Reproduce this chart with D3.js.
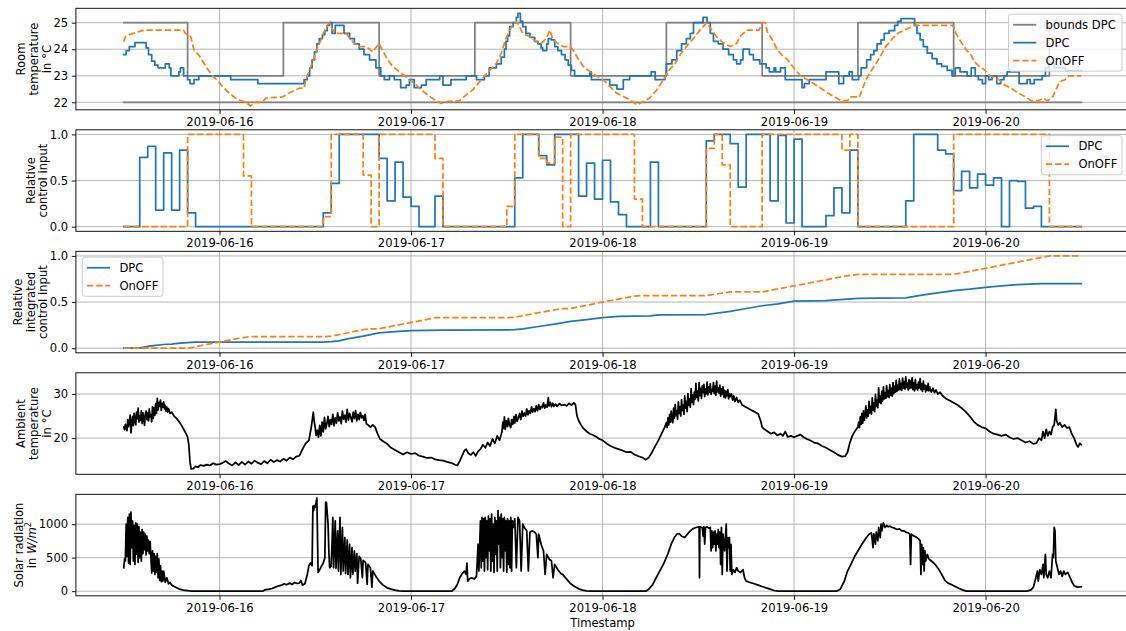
<!DOCTYPE html>
<html><head><meta charset="utf-8">
<script src="https://cdn.jsdelivr.net/npm/d3@7"></script>
<style>
html,body{margin:0;padding:0;background:#fff;}
svg{display:block;font-family:"DejaVu Sans",sans-serif;}
</style></head><body>
<svg id="chart" width="1126" height="631"></svg>
<script>
// ---------------- DATA (hours since 2019-06-15 00:00) ----------------
const dayTicks = ["2019-06-16","2019-06-17","2019-06-18","2019-06-19","2019-06-20"];
const roomTicks = [22,23,24,25];
const controlTicks = [0,0.5,1.0];
const ambientTicks = [20,30];
const solarTicks = [0,500,1000];

const boundsUpper = [[12,25],[20,23],[32,25],[44,23],[56,25],[68,23],[80,25],[92,23],[104,25],[116,23],[128,25],[132,25]];
const boundsLower = [[12,22],[132,22]];

const dpcRoomTemp = [[12.0,23.8],[12.3,23.95],[12.7,24.1],[13.4,24.25],[14.8,24.05],[15.1,23.8],[15.5,23.55],[15.9,23.4],[16.3,23.3],[17.2,23.45],[17.7,23.3],[17.9,23.0],[18.9,23.15],[19.1,23.3],[19.5,23.0],[20.0,22.85],[20.3,22.7],[20.8,22.85],[21.4,23.0],[25.4,22.85],[28.8,22.7],[34.6,22.85],[35.0,23.0],[35.3,23.3],[35.6,23.6],[35.9,23.9],[36.2,24.2],[36.5,24.4],[36.9,24.55],[37.2,24.7],[37.5,24.9],[37.8,25.0],[38.1,24.6],[38.5,24.9],[39.6,24.6],[40.3,24.4],[40.9,24.2],[41.5,24.0],[42.1,23.8],[42.8,23.6],[43.6,23.3],[44.2,23.0],[44.65,22.85],[45.3,23.0],[45.9,22.85],[46.7,22.55],[47.4,22.65],[47.8,22.85],[48.4,22.55],[49.3,22.65],[49.9,22.85],[51.6,23.0],[52.0,22.65],[53.0,22.85],[54.9,23.0],[56.2,22.85],[57.2,23.0],[57.8,23.3],[58.7,23.45],[59.3,23.7],[59.7,24.0],[59.9,24.3],[60.1,24.5],[60.35,24.85],[60.8,25.0],[61.2,25.2],[61.4,25.35],[61.7,25.05],[62.0,24.85],[62.4,24.6],[62.9,24.45],[63.5,24.3],[63.9,24.2],[64.3,24.05],[64.5,23.95],[65.0,24.2],[65.2,24.4],[65.6,24.35],[66.0,24.1],[66.4,23.95],[66.85,23.8],[67.3,23.6],[67.7,23.4],[68.1,23.2],[68.5,23.0],[70.4,23.15],[70.6,22.85],[72.9,22.65],[73.8,22.5],[74.6,22.85],[75.4,23.0],[78.1,23.15],[78.6,22.85],[79.8,23.0],[80.0,23.45],[80.7,23.6],[81.3,23.95],[81.9,24.2],[82.5,24.4],[83.0,24.6],[83.4,25.0],[84.6,25.2],[85.1,25.0],[85.5,24.6],[85.9,24.3],[86.5,24.2],[87.1,24.0],[87.8,23.8],[88.4,23.6],[88.8,23.45],[89.3,23.6],[89.6,24.0],[90.4,23.8],[90.9,23.6],[91.7,23.45],[92.5,23.3],[92.9,23.15],[93.5,23.3],[93.7,23.15],[94.3,23.3],[94.9,22.85],[97.0,22.55],[97.3,22.7],[97.9,22.85],[100.0,23.15],[101.6,22.7],[102.2,23.0],[102.9,23.15],[103.3,22.85],[104.1,23.0],[104.4,23.3],[105.1,23.6],[105.6,23.8],[106.0,23.95],[106.4,24.2],[106.9,24.35],[107.3,24.6],[107.9,24.7],[108.6,24.9],[109.0,25.05],[109.4,25.15],[111.1,24.9],[111.4,24.6],[111.8,24.35],[112.2,24.1],[112.7,23.85],[113.3,23.65],[113.9,23.45],[114.5,23.35],[115.2,23.2],[115.8,23.0],[116.2,23.3],[116.8,23.15],[117.7,23.0],[118.2,23.3],[118.7,23.0],[119.1,22.85],[119.6,22.7],[120.0,23.0],[120.4,22.85],[120.8,23.0],[121.4,22.7],[121.9,22.85],[122.3,23.0],[122.7,23.15],[124.2,22.7],[125.2,22.85],[125.6,22.7],[126.1,22.85],[127.1,23.0],[127.5,23.3],[127.9,23.5],[128.6,23.3],[130.0,23.2],[132.0,23.2]];

const onoffRoomTemp = [[12.0,24.28],[12.2,24.47],[12.8,24.56],[14.5,24.72],[19.5,24.72],[19.7,24.6],[20.4,24.47],[20.8,23.97],[21.4,23.78],[22.3,23.35],[23.1,23.0],[23.7,22.84],[24.35,22.6],[25.2,22.35],[26.0,22.16],[26.65,22.06],[27.3,22.0],[27.9,21.86],[28.5,22.0],[29.4,22.0],[29.8,22.16],[31.9,22.2],[32.7,22.35],[34.0,22.53],[34.6,22.53],[34.8,22.84],[35.45,23.35],[35.9,23.72],[36.3,24.1],[36.7,24.35],[37.1,24.66],[37.75,25.0],[38.2,24.72],[38.6,24.6],[39.85,24.6],[40.7,24.28],[41.5,24.1],[42.4,24.1],[43.2,23.9],[44.0,24.22],[44.4,23.97],[45.07,23.6],[45.7,23.35],[46.5,23.16],[47.2,23.0],[47.8,22.84],[48.4,22.72],[49.26,22.47],[50.1,22.28],[50.9,22.1],[51.8,21.96],[52.6,22.03],[54.1,22.06],[54.9,22.28],[55.75,22.47],[56.6,22.78],[57.2,22.99],[57.84,23.2],[58.7,23.47],[59.3,23.85],[59.9,24.41],[60.6,24.85],[61.2,25.04],[61.6,24.85],[62.0,24.6],[62.9,24.47],[63.7,24.28],[64.3,24.22],[64.96,24.41],[65.4,24.72],[65.8,24.35],[66.4,24.22],[67.05,24.1],[67.9,24.1],[68.3,23.97],[68.9,23.66],[69.6,23.35],[70.4,23.16],[71.2,23.0],[72.1,22.84],[72.9,22.6],[73.75,22.35],[74.6,22.22],[75.4,22.1],[76.3,21.9],[77.1,22.03],[77.9,22.16],[78.8,22.47],[79.6,22.84],[80.2,23.16],[81.1,23.47],[81.7,23.78],[82.5,24.1],[83.4,24.41],[84.2,24.72],[85.06,25.0],[85.7,24.72],[86.3,24.47],[87.2,24.22],[88.0,24.1],[88.8,24.22],[89.3,24.5],[90.1,24.72],[91.6,24.72],[92.0,25.0],[92.4,25.0],[92.65,24.66],[93.3,24.35],[93.9,23.97],[94.5,23.78],[95.2,23.6],[96.0,23.28],[96.8,23.0],[97.7,22.84],[98.5,22.7],[99.35,22.53],[100.2,22.35],[101.0,22.22],[101.9,22.06],[102.7,22.06],[103.1,22.2],[104.2,22.2],[104.6,22.53],[105.0,22.84],[105.6,23.16],[106.3,23.47],[106.9,23.78],[107.5,24.1],[108.35,24.41],[109.0,24.6],[109.8,24.72],[111.1,24.9],[115.9,24.9],[116.3,24.6],[116.9,24.28],[117.6,23.97],[118.2,23.78],[118.6,23.53],[119.2,23.35],[119.9,23.22],[120.5,23.0],[121.75,22.84],[122.4,22.65],[123.2,22.53],[124.1,22.35],[124.9,22.22],[125.75,22.06],[126.6,22.06],[127.2,22.15],[127.8,22.06],[128.45,22.22],[128.9,22.53],[129.3,22.78],[129.9,22.84],[130.5,23.0],[132.0,23.0]];

// hourly control inputs, first value is hour 12 of 2019-06-15
const controlStartHour = 12;
const dpcControl = [
0,0,0.75,0.87,0.18,0.8,0.18,0.83,0.15,0,
0,0,0,0,0,0,0,0,0,0,
0,0,0,0,0,0.15,0.47,1,1,1,
1,1,0.74,0.28,0.7,0.32,0.22,0,0,0.33,
0,0,0,0,0,0,0,0,0,0.53,
1,1,0.77,0.67,1,1,1,0.33,0.69,0.3,
0.72,0.27,0.13,0,0,0,0.7,0,0,0,
0,0,0,0.93,1,1,0.9,0.43,1,1,
1,0.28,0.99,0.04,0.95,0,0,0,0.12,0.42,
0.15,0.83,0,0,0,0,0,0,0.28,1,
1,1,0.83,0.79,0.39,0.6,0.42,0.57,0.45,0.53,
0,0.5,0.49,0.2,0.22,0,0,0,0,0];
const onoffControl = [
0,0,0,0,0,0,0,0,1,1,
1,1,1,1,1,0.55,0,0,0,0,
0,0,0,0,0,0.11,1,1,1,1,
0.56,0,1,1,1,1,1,1,1,0.74,
0,0,0,0,0,0,0,0,0.22,1,
1,1,0.74,0.69,0.97,0,1,1,1,1,
1,1,1,1,0.3,0,0,0,0,0,
0,0,0,0.85,1,0.67,0,0,0,0,
1,1,1,1,1,1,1,1,1,1,
0.83,1,0,0,0,0,0,0,0,0,
0,0,0,0,1,1,1,1,1,1,
1,1,1,1,1,1,0,0,0,0];

const dpcIntegrated = [[12,0],[14,0],[15,0.02],[16,0.03],[17,0.04],[18,0.045],[19,0.055],[20,0.06],[21,0.065],[37,0.065],[38,0.07],[39,0.08],[40,0.1],[42,0.13],[44,0.165],[46,0.18],[48,0.19],[52,0.195],[61,0.2],[62,0.21],[64,0.235],[66,0.26],[68,0.29],[70,0.31],[72,0.33],[74,0.345],[78,0.35],[79,0.36],[85,0.365],[88,0.4],[90,0.43],[92,0.46],[94,0.48],[96,0.51],[100,0.515],[104,0.54],[110,0.545],[112,0.575],[114,0.6],[116,0.625],[118,0.64],[120,0.66],[122,0.675],[124,0.69],[127,0.7],[132,0.7]];
const onoffIntegrated = [[12,0],[20,0],[21,0.015],[22,0.035],[23,0.05],[24,0.065],[25,0.085],[26,0.1],[27,0.115],[28,0.125],[37,0.125],[38,0.13],[42,0.2],[43,0.21],[44,0.21],[51,0.33],[52,0.33],[60,0.33],[61,0.335],[64,0.385],[67,0.43],[68,0.43],[72,0.5],[76,0.565],[77,0.57],[85,0.57],[88,0.61],[92,0.61],[96,0.675],[102,0.775],[104,0.8],[116,0.8],[120,0.865],[128,1.0],[132,1.0]];

const ambientTemp = [
[12.0,22.5],[12.1,21.9],[12.2,23.1],[12.3,22.2],[12.4,21.7],[12.5,24.2],[12.6,22.6],[12.7,23.8],[12.8,25.2],[12.9,21.2],[13.0,23.4],[13.1,24.9],[13.2,22.8],[13.3,25.6],[13.4,24.1],[13.5,23.0],[13.6,25.9],[13.7,24.4],[13.8,26.8],[13.9,23.6],[14.0,25.1],[14.1,24.0],[14.2,26.2],[14.3,23.3],[14.4,25.7],[14.5,24.6],[14.6,22.9],[14.7,25.4],[14.8,26.1],[14.9,24.2],[15.0,25.8],[15.1,23.9],[15.2,26.6],[15.3,24.8],[15.4,25.3],[15.5,23.7],[15.6,27.1],[15.7,24.5],[15.8,26.9],[15.9,25.2],[16.0,27.8],[16.1,25.6],[16.2,29.0],[16.3,26.4],[16.4,28.1],[16.5,27.2],[16.6,28.6],[16.7,26.3],[16.8,27.9],[16.9,27.0],[17.0,28.2],[17.1,26.6],[17.2,27.4],[17.3,26.1],[17.4,27.0],[17.5,25.9],[17.6,26.7],[17.8,25.6],[18.0,25.9],[18.3,25.0],[18.6,24.5],[18.9,23.8],[19.2,23.0],[19.5,22.0],[19.8,21.0],[20.0,20.2],[20.15,18.5],[20.3,14.5],[20.45,13.0],[20.7,13.1],[21.0,13.6],[21.3,13.4],[21.6,13.9],[22.0,13.7],[22.4,14.0],[22.8,13.8],[23.2,14.3],[23.6,14.0],[24.0,14.1],[24.4,14.4],[24.8,14.8],[25.2,14.2],[25.6,13.8],[26.0,14.5],[26.4,13.9],[26.8,14.6],[27.2,14.0],[27.6,14.7],[28.0,14.2],[28.4,14.9],[28.8,14.4],[29.2,14.1],[29.6,14.8],[30.0,14.3],[30.4,15.1],[30.8,14.6],[31.2,15.0],[31.6,14.7],[32.0,15.3],[32.4,14.9],[32.8,15.6],[33.2,15.2],[33.6,15.8],[34.0,16.0],[34.4,17.5],[34.8,18.8],[35.2,19.5],
[35.5,22.5],[35.6,23.8],[35.75,25.9],[35.85,24.0],[36.0,22.3],[36.1,20.6],[36.25,21.8],[36.4,20.2],[36.55,22.9],[36.7,20.5],[36.85,23.6],[37.0,21.4],[37.15,24.7],[37.3,22.1],[37.45,23.2],[37.6,24.9],[37.75,22.6],[37.9,24.2],[38.05,23.1],[38.2,25.4],[38.35,22.8],[38.5,24.6],[38.65,23.4],[38.8,25.7],[38.95,23.9],[39.1,24.8],[39.25,23.3],[39.4,26.1],[39.55,24.3],[39.7,25.2],[39.85,23.6],[40.0,26.5],[40.15,24.1],[40.3,25.6],[40.45,24.7],[40.6,23.7],[40.75,25.9],[40.9,24.4],[41.05,26.2],[41.2,23.9],[41.35,25.4],[41.5,24.2],[41.65,25.8],[41.8,24.6],[41.95,25.1],[42.1,24.0],[42.25,25.4],[42.4,23.3],[42.6,23.0],[42.9,22.5],[43.2,23.0],[43.5,22.5],[43.8,21.0],[44.1,19.8],[44.5,19.3],[45.0,18.7],[45.5,17.8],[46.0,17.3],[46.5,16.8],[47.0,16.3],[47.5,16.8],[48.0,16.4],[48.5,16.6],[49.0,16.0],[49.5,15.8],[50.0,15.5],[50.5,15.6],[51.0,15.2],[51.5,15.0],[52.0,14.9],[52.5,14.6],[53.0,14.4],[53.5,14.0],[53.8,13.8],[54.1,14.8],[54.4,16.0],[54.7,17.2],[54.9,17.5],[55.2,16.5],[55.5,16.2],[55.8,16.8],[56.1,16.0],[56.4,17.0],[56.7,17.5],[57.0,18.5],[57.3,17.8],[57.6,19.0],[57.9,18.2],[58.2,19.8],[58.5,18.8],[58.8,20.5],[59.1,19.5],
[59.4,21.5],[59.5,23.6],[59.6,22.2],[59.7,24.8],[59.8,22.0],[59.95,23.9],[60.1,22.6],[60.2,24.5],[60.35,23.0],[60.5,22.4],[60.6,24.2],[60.75,23.1],[60.9,24.9],[61.0,23.4],[61.15,25.3],[61.3,23.8],[61.45,24.6],[61.6,25.6],[61.75,24.2],[61.9,26.1],[62.05,24.9],[62.2,25.7],[62.35,25.0],[62.5,26.6],[62.65,25.3],[62.8,26.2],[62.95,25.6],[63.1,27.1],[63.25,25.9],[63.4,26.7],[63.55,26.0],[63.7,27.3],[63.85,26.2],[64.0,27.6],[64.15,26.5],[64.3,27.2],[64.45,26.9],[64.6,28.0],[64.75,26.8],[64.9,27.5],[65.05,27.0],[65.2,29.2],[65.3,27.3],[65.45,28.1],[65.6,27.1],[65.75,27.9],[65.9,27.2],[66.1,27.7],[66.3,27.2],[66.6,27.8],[66.9,27.4],[67.2,27.6],[67.5,27.3],[67.8,27.9],[68.1,27.5],[68.4,28.0],[68.6,27.6],[68.8,25.0],[69.0,24.0],[69.3,23.0],[69.6,22.2],[70.0,21.5],[70.4,21.0],[70.8,20.7],[71.2,20.3],[71.6,19.8],[72.0,19.5],[72.5,18.8],[73.0,18.2],[73.5,17.8],[74.0,17.5],[74.5,17.2],[75.0,16.8],[75.5,16.9],[76.0,16.3],[76.5,15.9],[77.0,15.6],[77.4,15.1],[77.8,15.6],[78.2,16.8],[78.6,18.2],[79.0,19.5],[79.4,21.0],[79.8,22.5],
[80.0,23.5],[80.1,22.4],[80.2,24.6],[80.3,23.0],[80.4,25.3],[80.5,23.6],[80.6,26.1],[80.7,24.2],[80.8,23.5],[80.9,26.8],[81.0,24.5],[81.1,27.6],[81.2,25.1],[81.3,26.2],[81.4,24.3],[81.5,28.2],[81.6,25.6],[81.7,27.1],[81.8,25.0],[81.9,28.7],[82.0,26.3],[82.1,27.5],[82.2,25.4],[82.3,29.6],[82.4,26.8],[82.5,28.3],[82.6,26.0],[82.7,30.1],[82.8,27.4],[82.9,28.9],[83.0,27.0],[83.1,31.2],[83.2,28.1],[83.3,29.8],[83.4,27.6],[83.5,30.4],[83.6,28.8],[83.7,32.4],[83.8,29.2],[83.9,30.7],[84.0,28.4],[84.1,32.6],[84.2,29.6],[84.3,31.3],[84.4,29.0],[84.5,31.9],[84.6,30.3],[84.7,32.2],[84.8,29.4],[84.9,31.1],[85.0,30.0],[85.1,32.7],[85.2,29.8],[85.3,31.6],[85.4,30.4],[85.5,32.3],[85.6,29.9],[85.7,31.0],[85.8,30.6],[85.9,32.6],[86.0,30.1],[86.1,31.8],[86.2,29.7],[86.3,32.9],[86.4,30.5],[86.5,31.4],[86.6,30.2],[86.7,32.0],[86.8,29.5],[86.9,31.2],[87.0,30.0],[87.1,31.6],[87.2,29.3],[87.3,30.8],[87.4,29.1],[87.5,30.6],[87.6,29.6],[87.7,31.0],[87.8,28.9],[87.9,30.1],[88.0,29.4],[88.15,30.0],[88.3,28.6],[88.45,29.6],[88.6,28.3],[88.8,29.2],[89.0,28.1],[89.2,28.6],[89.5,27.5],[90.0,27.0],[90.5,26.5],[91.0,26.0],[91.5,25.5],[91.8,24.0],[92.0,22.5],[92.3,22.0],[92.7,21.5],[93.1,21.0],[93.5,21.3],[93.9,20.6],[94.3,21.0],[94.6,20.5],[94.9,21.5],[95.2,20.3],[95.6,20.5],[96.0,20.2],[96.4,20.5],[96.8,20.8],[97.2,20.2],[97.6,19.8],[98.0,19.5],[98.5,19.0],[99.0,18.8],[99.5,18.2],[100.0,17.8],[100.5,17.3],[101.0,16.8],[101.5,16.2],[102.0,15.8],[102.4,15.9],[102.7,16.8],[103.0,19.0],[103.3,20.5],[103.6,21.5],
[104.0,22.5],[104.1,23.6],[104.2,22.4],[104.3,24.8],[104.4,23.1],[104.5,25.6],[104.6,23.4],[104.7,26.2],[104.8,24.0],[104.9,25.1],[105.0,27.3],[105.1,24.6],[105.2,26.4],[105.3,25.0],[105.4,28.3],[105.5,25.7],[105.6,27.2],[105.7,25.4],[105.8,29.1],[105.9,26.3],[106.0,28.0],[106.1,26.0],[106.2,29.9],[106.3,27.2],[106.4,28.6],[106.5,26.9],[106.6,31.4],[106.7,28.1],[106.8,29.5],[106.9,27.8],[107.0,30.6],[107.1,28.4],[107.2,31.6],[107.3,28.9],[107.4,30.2],[107.5,29.0],[107.6,31.9],[107.7,29.4],[107.8,30.8],[107.9,29.2],[108.0,32.1],[108.1,29.7],[108.2,31.3],[108.3,29.5],[108.4,32.6],[108.5,30.1],[108.6,31.7],[108.7,30.4],[108.8,33.1],[108.9,30.6],[109.0,32.0],[109.1,30.9],[109.2,33.4],[109.3,31.0],[109.4,32.4],[109.5,30.8],[109.6,33.6],[109.7,31.3],[109.8,32.8],[109.9,31.1],[110.0,33.9],[110.1,31.5],[110.2,32.6],[110.3,30.9],[110.4,33.2],[110.5,31.2],[110.6,32.9],[110.7,31.4],[110.8,33.7],[110.9,31.0],[111.0,32.5],[111.1,30.7],[111.2,33.3],[111.3,31.2],[111.4,32.1],[111.5,30.9],[111.6,32.7],[111.7,31.4],[111.8,33.5],[111.9,31.0],[112.0,32.3],[112.1,30.6],[112.2,32.9],[112.3,31.1],[112.4,32.0],[112.5,30.5],[112.6,31.8],[112.7,30.8],[112.8,32.4],[112.9,30.7],[113.0,31.6],[113.2,30.4],[113.4,31.3],[113.6,30.3],[113.8,30.9],[114.0,30.0],[114.3,30.4],[114.6,29.6],[115.0,29.0],[115.5,28.5],[116.0,28.0],[116.5,27.5],[117.0,26.8],[117.5,26.0],[118.0,25.0],[118.5,23.8],[119.0,23.0],[119.5,22.5],[120.0,22.2],[120.5,21.5],[121.0,21.0],[121.5,20.8],[122.0,20.5],[122.5,20.8],[123.0,20.2],[123.5,19.8],[124.0,20.0],[124.5,19.5],[125.0,19.0],[125.5,19.3],[126.0,18.7],[126.4,18.9],[126.7,20.0],[127.0,19.5],[127.2,21.5],[127.4,20.0],[127.6,22.0],[127.8,20.5],[128.0,21.5],[128.2,20.8],[128.4,22.5],[128.6,23.0],[128.8,26.5],[128.9,24.0],[129.1,23.0],[129.3,23.5],[129.6,22.5],[129.9,23.0],[130.2,22.3],[130.5,22.5],[130.8,21.0],[131.1,20.0],[131.4,18.5],[131.6,18.0],[131.8,18.8],[132.0,18.5]];

const solarRadiation = [[12.0,350],[12.1,480],[12.2,450],[12.3,1000],[12.4,520],[12.5,1100],[12.6,420],[12.7,1150],[12.8,400],[12.9,1180],[13.0,650],[13.1,1050],[13.2,450],[13.3,980],[13.4,400],[13.5,1020],[13.6,550],[13.7,1000],[13.8,430],[13.9,960],[14.0,500],[14.1,880],[14.2,450],[14.3,920],[14.4,560],[14.5,880],[14.6,620],[14.7,850],[14.8,540],[14.9,820],[15.0,600],[15.1,760],[15.2,560],[15.3,740],[15.5,270],[15.6,600],[15.7,300],[15.8,560],[15.9,250],[16.0,520],[16.1,280],[16.2,560],[16.3,200],[16.4,480],[16.5,160],[16.6,380],[16.7,140],[16.8,300],[16.9,150],[17.0,300],[17.2,130],[17.4,200],[17.6,110],[17.8,130],[18.0,90],[18.5,60],[19.0,30],[19.5,15],[20.0,8],[20.5,2],[21.0,0],
[29.4,0],[29.7,20],[30.2,30],[30.6,40],[31.0,60],[31.4,80],[31.8,90],[32.1,110],[32.4,95],[32.8,120],[33.1,100],[33.4,130],[33.7,115],[34.0,120],[34.2,160],[34.4,90],[34.7,110],[35.0,250],[35.2,380],[35.4,420],[35.6,380],[35.7,1270],[35.8,1200],[35.9,1280],[36.0,1250],[36.2,1390],[36.35,280],[36.6,330],[36.8,380],[37.0,420],[37.2,500],[37.3,1330],[37.4,1320],[37.6,1000],[37.7,600],[37.8,350],[38.0,370],[38.2,1100],[38.3,350],[38.5,1050],[38.6,340],[38.8,900],[38.9,300],[39.1,1100],[39.2,250],[39.4,950],[39.5,300],[39.7,800],[39.8,260],[40.0,760],[40.1,250],[40.3,700],[40.4,200],[40.6,650],[40.7,250],[40.9,600],[41.0,300],[41.2,560],[41.3,120],[41.5,520],[41.7,480],[41.9,200],[42.0,460],[42.3,430],[42.5,100],[42.6,400],[42.9,350],[43.1,60],[43.2,300],[43.6,220],[44.0,150],[44.5,90],[45.0,50],[45.5,30],[46.0,15],[46.5,3],[47.0,0],
[53.1,0],[53.5,40],[53.8,100],[54.1,200],[54.4,260],[54.7,300],[54.9,250],[55.0,420],[55.1,150],[55.3,180],[55.6,200],[55.9,180],[56.2,220],[56.4,700],[56.5,300],[56.7,1050],[56.8,350],[56.9,1100],[57.0,450],[57.1,1080],[57.2,300],[57.3,1100],[57.4,500],[57.5,1050],[57.6,320],[57.7,1120],[57.8,600],[57.9,1080],[58.0,300],[58.1,1150],[58.2,450],[58.3,1000],[58.4,280],[58.5,1100],[58.6,550],[58.7,1050],[58.8,300],[58.9,1200],[59.0,700],[59.1,1100],[59.2,350],[59.3,1150],[59.4,500],[59.5,1080],[59.6,300],[59.7,1100],[59.8,600],[59.9,1050],[60.0,280],[60.1,1080],[60.2,400],[60.3,1050],[60.4,350],[60.5,1100],[60.6,300],[60.7,1050],[60.8,950],[61.0,1080],[61.2,350],[61.4,1100],[61.6,1050],[61.8,300],[62.0,1000],[62.2,950],[62.5,900],[62.7,300],[62.9,880],[63.2,900],[63.5,880],[63.7,850],[63.9,500],[64.0,850],[64.3,700],[64.6,600],[64.8,250],[65.0,550],[65.3,480],[65.6,450],[65.8,200],[66.0,400],[66.4,320],[66.8,260],[67.0,250],[67.5,180],[68.0,110],[68.5,70],[69.0,35],[69.5,15],[70.0,5],[70.6,0],
[77.4,0],[77.8,30],[78.3,100],[78.8,220],[79.3,330],[79.7,420],[80.2,560],[80.6,700],[81.0,800],[81.3,850],[81.6,860],[81.9,820],[82.3,800],[82.7,860],[83.0,900],[83.3,930],[83.7,950],[84.1,960],[84.15,200],[84.2,960],[84.5,950],[84.6,820],[84.7,960],[84.8,700],[84.9,950],[85.1,960],[85.3,940],[85.5,950],[85.6,600],[85.7,900],[85.8,650],[85.9,880],[86.0,700],[86.1,900],[86.2,600],[86.3,850],[86.4,700],[86.5,920],[86.6,650],[86.7,880],[86.8,400],[86.9,950],[87.0,250],[87.1,850],[87.3,600],[87.5,1000],[87.6,300],[87.7,800],[87.8,650],[87.9,800],[88.0,300],[88.1,700],[88.2,250],[88.4,320],[88.6,280],[88.8,350],[89.0,300],[89.3,280],[89.6,320],[89.8,200],[90.0,150],[90.5,130],[91.0,110],[91.5,90],[92.0,70],[92.5,50],[93.0,30],[93.5,10],[94.0,0],
[101.3,0],[101.8,30],[102.3,150],[102.7,300],[103.2,420],[103.6,520],[104.0,600],[104.5,700],[105.0,790],[105.4,850],[105.7,870],[105.9,650],[106.0,860],[106.2,700],[106.3,880],[106.5,750],[106.6,950],[106.8,800],[106.9,1000],[107.0,900],[107.2,1020],[107.4,950],[107.6,980],[107.8,960],[108.0,970],[108.3,950],[108.6,940],[108.9,920],[109.2,930],[109.5,900],[109.8,900],[110.0,880],[110.3,870],[110.5,850],[110.6,400],[110.7,850],[110.9,830],[111.1,820],[111.4,800],[111.6,780],[111.8,750],[111.9,250],[112.0,700],[112.1,400],[112.2,650],[112.3,300],[112.4,600],[112.5,450],[112.7,550],[112.9,480],[113.2,450],[113.5,420],[113.8,380],[114.1,330],[114.5,250],[114.9,160],[115.3,120],[115.7,100],[116.2,70],[116.7,40],[117.2,15],[117.6,0],
[125.2,0],[125.7,20],[126.0,60],[126.3,200],[126.5,300],[126.6,150],[126.8,320],[127.0,250],[127.2,400],[127.3,200],[127.5,550],[127.6,250],[127.8,200],[128.0,300],[128.2,200],[128.4,550],[128.5,500],[128.6,950],[128.7,900],[128.8,450],[129.0,350],[129.2,250],[129.4,300],[129.6,220],[129.8,300],[130.0,250],[130.3,280],[130.6,200],[130.9,120],[131.1,80],[131.5,60],[132.0,65]];

// ---------------- DRAWING ----------------
const svg = d3.select("#chart");
const base = Date.UTC(2019,5,15);
const toDate = h => new Date(base + h*3600e3);
const parseDay = d3.utcParse("%Y-%m-%d");
const dayDates = dayTicks.map(parseDay);
const x = d3.scaleUtc().domain([toDate(6), toDate(138)]).range([75.9, 1129.2]);
const L = x.range()[0], R = x.range()[1];
const FS = 11.6, LW = 1.74, GRID = "#b0b0b0";
const panelTop = [8.3, 129.8, 251.3, 372.8, 494.3], PH = 101.5;
const C_BLUE = "#1f77b4", C_ORANGE = "#ff7f0e", C_GRAY = "#808080";
const DASH = "6.4,2.8";

svg.append("rect").attr("width",1126).attr("height",631).attr("fill","#fff");

function makePanel(i, domain, ticks, fmt){
  const top = panelTop[i], bot = top + PH;
  const y = d3.scaleLinear().domain(domain).range([bot, top]);
  const g = svg.append("g");
  const clipId = "clip"+i;
  svg.append("clipPath").attr("id", clipId).append("rect")
     .attr("x", L).attr("y", top).attr("width", R-L).attr("height", PH);
  g.append("g").selectAll("line").data(dayDates).join("line")
    .attr("x1", d=>x(d)).attr("x2", d=>x(d)).attr("y1", top).attr("y2", bot)
    .attr("stroke", GRID).attr("stroke-width", 0.93);
  g.append("g").selectAll("line").data(ticks).join("line")
    .attr("x1", L).attr("x2", R).attr("y1", d=>y(d)).attr("y2", d=>y(d))
    .attr("stroke", GRID).attr("stroke-width", 0.93);
  const plot = g.append("g").attr("clip-path", `url(#${clipId})`);
  const ax = g.append("g").attr("transform", `translate(0,${bot})`)
    .call(d3.axisBottom(x).tickValues(dayDates).tickFormat(d3.utcFormat("%Y-%m-%d")).tickSize(4.05).tickPadding(3.6));
  const ay = g.append("g").attr("transform", `translate(${L},0)`)
    .call(d3.axisLeft(y).tickValues(ticks).tickFormat(fmt).tickSize(4.05).tickPadding(3.6));
  [ax, ay].forEach(a=>{
    a.select(".domain").remove();
    a.attr("font-size", FS).attr("font-family", "DejaVu Sans");
    a.selectAll("line").attr("stroke", "#000").attr("stroke-width", 0.93);
    a.selectAll("text").attr("fill", "#000");
  });
  g.append("rect").attr("x", L).attr("y", top).attr("width", R-L).attr("height", PH)
    .attr("fill", "none").attr("stroke", "#000").attr("stroke-width", 0.93);
  return {g, plot, y, top, bot};
}

function drawLine(p, data, color, opts={}){
  const line = d3.line().x(d=>x(toDate(d[0]))).y(d=>p.y(d[1])).curve(opts.curve || d3.curveLinear);
  p.plot.append("path").datum(data).attr("d", line)
    .attr("fill", "none").attr("stroke", color).attr("stroke-width", opts.lw || LW)
    .attr("stroke-dasharray", opts.dash || null).attr("stroke-linejoin", "round").attr("stroke-linecap", opts.dash ? "butt" : "square");
}

function yLabel(p, lines, lastCenter){
  const cy = (p.top + p.bot)/2;
  const n = lines.length;
  lines.forEach((ln, k) => {
    const c = lastCenter - (n-1-k)*12.6;
    const t = svg.append("text").attr("transform", `translate(${c+4.2},${cy}) rotate(-90)`)
      .attr("text-anchor", "middle").attr("font-size", FS).attr("fill", "#000");
    if (typeof ln === "string") t.text(ln);
    else ln(t);
  });
}

function legend(p, items, x0, top, width){
  const h = 9.2 + items.length*12.1 + (items.length-1)*5.8;
  const lg = svg.append("g");
  lg.append("rect").attr("x", x0).attr("y", top).attr("width", width).attr("height", h)
    .attr("rx", 2.7).attr("fill", "#fff").attr("fill-opacity", 0.8)
    .attr("stroke", "#cccccc").attr("stroke-width", 1.0);
  items.forEach((it, k) => {
    const cy = top + 4.6 + 6.05 + k*17.9;
    lg.append("line").attr("x1", x0+4.6).attr("x2", x0+27.8).attr("y1", cy).attr("y2", cy)
      .attr("stroke", it.color).attr("stroke-width", LW).attr("stroke-dasharray", it.dash || null);
    lg.append("text").attr("x", x0+37.1).attr("y", cy).attr("dy", "0.36em")
      .attr("font-size", FS).attr("fill", "#000").text(it.label);
  });
}

const stepPts = (arr) => {
  const pts = arr.map((v,i)=>[controlStartHour+i, v]);
  pts.push([controlStartHour+arr.length, arr[arr.length-1]]);
  return pts;
};

// Panel 1: room temperature
const p1 = makePanel(0, [21.717, 25.543], roomTicks, d3.format("d"));
drawLine(p1, boundsUpper, C_GRAY, {curve: d3.curveStepAfter});
drawLine(p1, boundsLower, C_GRAY);
drawLine(p1, dpcRoomTemp, C_BLUE, {curve: d3.curveStepAfter});
drawLine(p1, onoffRoomTemp, C_ORANGE, {dash: DASH});
yLabel(p1, ["Room","temperature","in °C"], 46.3);
legend(p1, [{label:"bounds DPC", color:C_GRAY},{label:"DPC", color:C_BLUE},{label:"OnOFF", color:C_ORANGE, dash:DASH}], 1008.5, 14.1, 113.5);

// Panel 2: relative control input
const p2 = makePanel(1, [-0.05, 1.05], controlTicks, d3.format(".1f"));
drawLine(p2, stepPts(dpcControl), C_BLUE, {curve: d3.curveStepAfter});
drawLine(p2, stepPts(onoffControl), C_ORANGE, {curve: d3.curveStepAfter, dash: DASH});
yLabel(p2, ["Relative","control input"], 43.2);
legend(p2, [{label:"DPC", color:C_BLUE},{label:"OnOFF", color:C_ORANGE, dash:DASH}], 1041.3, 135.6, 80.7);

// Panel 3: integrated control input
const p3 = makePanel(2, [-0.05, 1.05], controlTicks, d3.format(".1f"));
drawLine(p3, dpcIntegrated, C_BLUE);
drawLine(p3, onoffIntegrated, C_ORANGE, {dash: DASH});
yLabel(p3, ["Relative","integrated","control input"], 43.2);
legend(p3, [{label:"DPC", color:C_BLUE},{label:"OnOFF", color:C_ORANGE, dash:DASH}], 82.3, 257.1, 80.7);

// Panel 4: ambient temperature
const p4 = makePanel(3, [11.8, 34.8], ambientTicks, d3.format("d"));
drawLine(p4, ambientTemp, "#000");
yLabel(p4, ["Ambient","temperature","in °C"], 46.3);

// Panel 5: solar radiation
const p5 = makePanel(4, [-69, 1445], solarTicks, d3.format("d"));
drawLine(p5, solarRadiation, "#000");
yLabel(p5, ["Solar radiation", t => {
  t.append("tspan").text("in ");
  t.append("tspan").attr("font-style","italic").text("W/m");
  t.append("tspan").attr("font-size", 8.2).attr("dy", -4.5).text("2");
}], 31.5);

svg.append("text").attr("x", (L+R)/2).attr("y", 626.5).attr("text-anchor","middle")
  .attr("font-size", FS).attr("fill","#000").text("Timestamp");
</script>
</body></html>
